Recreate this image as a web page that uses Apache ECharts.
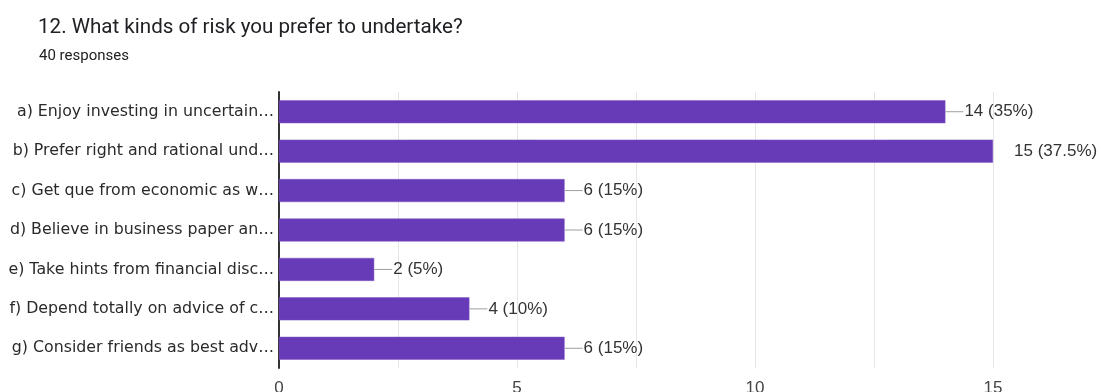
<!DOCTYPE html>
<html>
<head>
<meta charset="utf-8">
<style>
  html, body { margin: 0; padding: 0; background: #fff; }
  #chart { width: 1101px; height: 392px; }
</style>
<script src="https://cdn.jsdelivr.net/npm/echarts@6/dist/echarts.min.js"></script>
</head>
<body>
<div id="chart"></div>
<script>
// Survey answers (question 12) and response counts
const categories = [
  'a) Enjoy investing in uncertain…',
  'b) Prefer right and rational und…',
  'c) Get que from economic as w…',
  'd) Believe in business paper an…',
  'e) Take hints from financial disc…',
  'f) Depend totally on advice of c…',
  'g) Consider friends as best adv…'
];
const counts = [14, 15, 6, 6, 2, 4, 6];
const percents = ['35%', '37.5%', '15%', '15%', '5%', '10%', '15%'];
const axisTicks = [0, 5, 10, 15];

const maxCount = Math.max.apply(null, counts);

const chart = echarts.init(document.getElementById('chart'), null, { renderer: 'canvas' });

chart.setOption({
  animation: false,
  textStyle: { fontFamily: 'Roboto, Arial, sans-serif' },
  title: [
    {
      text: '12. What kinds of risk you prefer to undertake?',
      left: 33, top: 12,
      textStyle: { fontSize: 20.6, fontWeight: 'normal', color: '#202124', fontFamily: 'Roboto, Arial, sans-serif' }
    },
    {
      text: '40 responses',
      left: 34, top: 44,
      textStyle: { fontSize: 15, fontWeight: 'normal', color: '#202124', fontFamily: 'Roboto, Arial, sans-serif' }
    }
  ],
  grid: { left: 279, right: 108, top: 92, bottom: 24, containLabel: false, outerBoundsMode: 'none' },
  xAxis: {
    type: 'value',
    min: 0, max: 15, interval: 2.5,
    axisLine: { show: false },
    axisTick: { show: false },
    splitLine: { show: true, lineStyle: { color: '#e6e6e6', width: 1 } },
    axisLabel: {
      color: '#444', fontSize: 17, margin: 12,
      fontFamily: 'Liberation Sans, Arial, sans-serif',
      formatter: v => (axisTicks.indexOf(v) >= 0 ? String(v) : '')
    }
  },
  yAxis: {
    type: 'category',
    inverse: true,
    data: categories,
    axisLine: { show: true, onZero: false, lineStyle: { color: '#333', width: 2 } },
    axisTick: { show: false },
    axisLabel: {
      color: '#2a2a2a', fontSize: 15.8, margin: 5,
      fontFamily: 'DejaVu Sans, Arial, sans-serif'
    }
  },
  series: [{
    type: 'bar',
    barWidth: 23,
    itemStyle: { color: '#673ab7', borderColor: '#7e57c2', borderWidth: 0.5 },
    data: counts.map((v, i) => ({ value: v, pct: percents[i] })),
    label: {
      show: true,
      position: 'right',
      distance: 0,
      formatter: p => {
        const lineKey = p.value === maxCount ? 'gap' : 'line';
        return '{' + lineKey + '|}{txt|' + p.value + ' (' + p.data.pct + ')}';
      },
      rich: {
        line: { width: 18, height: 1, backgroundColor: '#9e9e9e' },
        gap: { width: 20, height: 1 },
        txt: { color: '#333', fontSize: 17, padding: [0, 0, 0, 1], fontFamily: 'Liberation Sans, Arial, sans-serif' }
      }
    }
  }]
});
</script>
</body>
</html>
